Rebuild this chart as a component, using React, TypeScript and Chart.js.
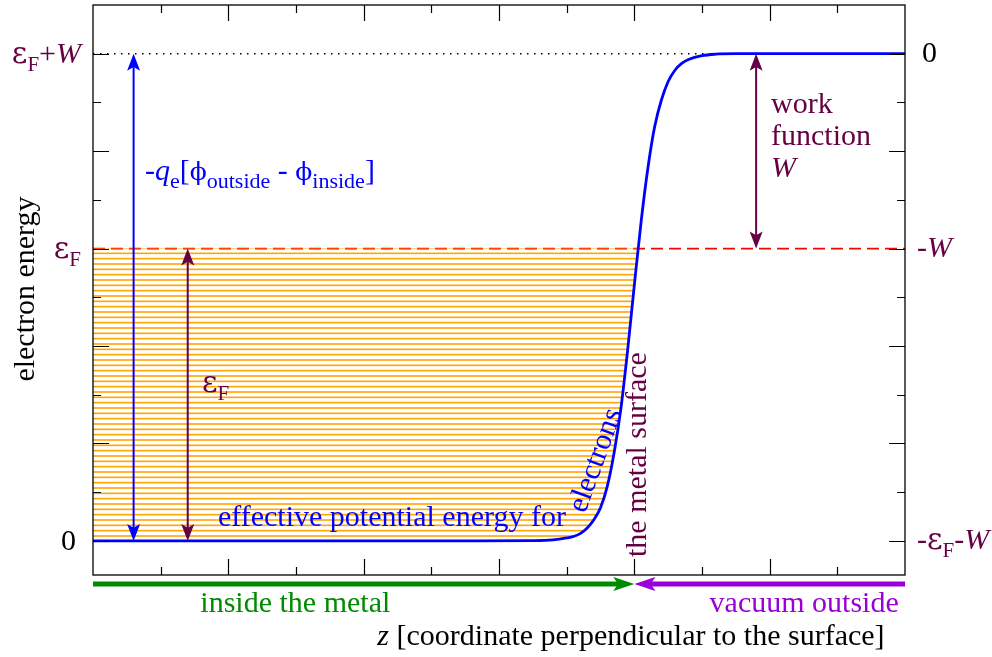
import React, { useEffect, useRef } from 'react';
import { Chart, registerables } from 'chart.js';

Chart.register(...registerables);

// ---------- data ----------
const zRange = [0, 12];
const energyRange = [-0.7, 11];
// effective potential energy for electrons, sampled along z
const potentialZ = [0, 5.5, 6.5, 6.8, 7.0, 7.1, 7.2, 7.3, 7.4, 7.5, 7.6, 7.7, 7.8, 7.9, 8.0, 8.1, 8.2, 8.3, 8.4, 8.5, 8.6, 8.7, 8.8, 9.0, 9.2, 9.5, 10, 12];
const potentialE = [0, 0, 0.005, 0.02, 0.06, 0.09, 0.15, 0.26, 0.43, 0.68, 1.12, 1.8, 2.7, 3.9, 5.25, 6.55, 7.65, 8.5, 9.05, 9.43, 9.66, 9.8, 9.88, 9.96, 9.99, 10, 10, 10];
const fermiLevel = 6;
const vacuumLevel = 10;
const surfaceZ = 8;
const zTicks = [1, 2, 3, 4, 5, 6, 7, 8, 9, 10, 11];
const eTicks = [0, 1, 2, 3, 4, 5, 6, 7, 8, 9, 10];
const leftTickValues = [10, 6, 0];
const leftTickLabels = ['ε_{F}+*W*', 'ε_{F}', '0'];
const rightTickValues = [10, 6, 0];
const rightTickLabels = ['0', '-*W*', '-ε_{F}-*W*'];

const FONT = "'Liberation Serif', 'Times New Roman', Times, serif";
const GREEK_FONT = "'DejaVu Serif', 'Liberation Serif', serif";
const MAROON = '#660044';
const BLUE = '#0000ff';
const GREEN = '#008a00';
const PURPLE = '#9a00d8';

type Run = { t: string; it: boolean; sub: boolean };

function parse(m: string): Run[] {
  const runs: Run[] = [];
  let it = false;
  let buf = '';
  let i = 0;
  const push = (sub: boolean) => {
    if (buf) runs.push({ t: buf, it, sub });
    buf = '';
  };
  while (i < m.length) {
    const c = m[i];
    if (c === '*') { push(false); it = !it; i++; continue; }
    if (c === '_' && m[i + 1] === '{') {
      push(false);
      const j = m.indexOf('}', i);
      buf = m.slice(i + 2, j);
      push(true);
      i = j + 1;
      continue;
    }
    if (c === 'ε' || c === 'ϕ') {
      push(false);
      buf = c;
      push(false);
      i++;
      continue;
    }
    buf += c;
    i++;
  }
  push(false);
  return runs;
}

function fontFor(r: Run, size: number, subSize: number) {
  if (r.t === 'ϕ') return `${Math.round(size * 0.84)}px ${GREEK_FONT}`;
  const greek = r.t === 'ε';
  return `${r.it ? 'italic ' : ''}${r.sub ? subSize : size}px ${greek ? GREEK_FONT : FONT}`;
}

function drawRich(ctx: CanvasRenderingContext2D, m: string, x: number, y: number, size: number, color: string,
  align: 'left' | 'right' | 'center' = 'left', subSize = size * 0.72, subDy = size * 0.27) {
  const runs = parse(m);
  let w = 0;
  for (const r of runs) { ctx.font = fontFor(r, size, subSize); w += ctx.measureText(r.t).width; }
  let cx = align === 'left' ? x : align === 'right' ? x - w : x - w / 2;
  ctx.fillStyle = color;
  ctx.textAlign = 'left';
  ctx.textBaseline = 'alphabetic';
  for (const r of runs) {
    ctx.font = fontFor(r, size, subSize);
    ctx.fillText(r.t, cx, y + (r.sub ? subDy : 0));
    cx += ctx.measureText(r.t).width;
  }
}

function arrowHead(ctx: CanvasRenderingContext2D, tx: number, ty: number, dx: number, dy: number, len: number, hw: number, color: string) {
  const bx = tx - dx * len, by = ty - dy * len;
  const px = -dy, py = dx;
  const nx = tx - dx * len * 0.78, ny = ty - dy * len * 0.78;
  ctx.fillStyle = color;
  ctx.beginPath();
  ctx.moveTo(tx, ty);
  ctx.lineTo(bx + px * hw, by + py * hw);
  ctx.lineTo(nx, ny);
  ctx.lineTo(bx - px * hw, by - py * hw);
  ctx.closePath();
  ctx.fill();
}

function arrow(ctx: CanvasRenderingContext2D, x0: number, y0: number, x1: number, y1: number, color: string,
  width: number, len: number, hw: number, heads: 'end' | 'both') {
  const L = Math.hypot(x1 - x0, y1 - y0);
  const dx = (x1 - x0) / L, dy = (y1 - y0) / L;
  const inset = len * 0.7;
  ctx.strokeStyle = color;
  ctx.lineWidth = width;
  ctx.setLineDash([]);
  ctx.beginPath();
  const sx = heads === 'both' ? x0 + dx * inset : x0;
  const sy = heads === 'both' ? y0 + dy * inset : y0;
  ctx.moveTo(sx, sy);
  ctx.lineTo(x1 - dx * inset, y1 - dy * inset);
  ctx.stroke();
  arrowHead(ctx, x1, y1, dx, dy, len, hw, color);
  if (heads === 'both') arrowHead(ctx, x0, y0, -dx, -dy, len, hw, color);
}

const overlay = {
  id: 'overlay',
  beforeDraw(chart: any) {
    const { ctx } = chart;
    ctx.save();
    ctx.fillStyle = '#ffffff';
    ctx.fillRect(0, 0, chart.width, chart.height);
    ctx.restore();
  },
  afterDatasetsDraw(chart: any) {
    const { ctx, chartArea: a } = chart;
    const xs = chart.scales.x, ys = chart.scales.y;
    const X = (v: number) => xs.getPixelForValue(v);
    const Y = (v: number) => ys.getPixelForValue(v);
    ctx.save();

    // vertical double arrows
    arrow(ctx, X(0.6), Y(0), X(0.6), Y(vacuumLevel), BLUE, 2, 17, 6.5, 'both');
    arrow(ctx, X(1.4), Y(0), X(1.4), Y(fermiLevel), MAROON, 2, 17, 6.5, 'both');
    arrow(ctx, X(9.8), Y(fermiLevel), X(9.8), Y(vacuumLevel), MAROON, 2, 17, 6.5, 'both');

    // frame
    ctx.strokeStyle = '#000';
    ctx.lineWidth = 1.3;
    ctx.setLineDash([]);
    ctx.strokeRect(a.left, a.top, a.right - a.left, a.bottom - a.top);

    // inward ticks
    ctx.lineWidth = 1.2;
    ctx.beginPath();
    for (const v of zTicks) {
      const L = v % 2 === 0 ? 16 : 8;
      const px = Math.round(X(v)) + 0.5;
      ctx.moveTo(px, a.bottom); ctx.lineTo(px, a.bottom - L);
      ctx.moveTo(px, a.top); ctx.lineTo(px, a.top + L);
    }
    for (const v of eTicks) {
      const L = v % 2 === 0 ? 16 : 8;
      const py = Math.round(Y(v)) + 0.5;
      ctx.moveTo(a.left, py); ctx.lineTo(a.left + L, py);
      ctx.moveTo(a.right, py); ctx.lineTo(a.right - L, py);
    }
    ctx.stroke();

    // tick labels
    leftTickValues.forEach((v, i) => {
      const lbl = leftTickLabels[i];
      drawRich(ctx, lbl, a.left - (lbl === '0' ? 17 : 12), Y(v) + 9, 30, lbl === '0' ? '#000' : MAROON, 'right', 21, 8);
    });
    rightTickValues.forEach((v, i) => {
      const lbl = rightTickLabels[i];
      drawRich(ctx, lbl, a.right + (lbl === '0' ? 17 : 12), Y(v) + 8, 30, lbl === '0' ? '#000' : MAROON, 'left', 21, 8);
    });

    // y axis title
    ctx.save();
    ctx.translate(a.left - 59, Y(5.17));
    ctx.rotate(-Math.PI / 2);
    drawRich(ctx, 'electron energy', 0, 0, 30, '#000', 'center');
    ctx.restore();

    // annotations
    drawRich(ctx, '-*q*_{e}[ϕ_{outside} - ϕ_{inside}]', X(0.768), Y(7.41), 30, BLUE, 'left', 22, 8);
    drawRich(ctx, 'ε_{F}', X(1.61), Y(3.06), 30, MAROON, 'left', 21, 8);
    drawRich(ctx, 'work', X(10.02), Y(8.79), 30, MAROON);
    drawRich(ctx, 'function', X(10.02), Y(8.13), 30, MAROON);
    drawRich(ctx, '*W*', X(10.02), Y(7.47), 30, MAROON);
    drawRich(ctx, 'effective potential energy for', X(1.847), Y(0.31), 30, BLUE);

    ctx.save();
    ctx.translate(X(7.27), Y(0.55));
    ctx.rotate(-70 * Math.PI / 180);
    drawRich(ctx, 'electrons', 0, 0, 30, BLUE);
    ctx.restore();

    ctx.save();
    ctx.translate(X(8.17), Y(-0.33));
    ctx.rotate(-Math.PI / 2);
    drawRich(ctx, 'the metal surface', 0, 0, 30, MAROON);
    ctx.restore();

    // region arrows below the frame
    const ay = a.bottom + 9;
    arrow(ctx, X(zRange[0]), ay, X(surfaceZ), ay, GREEN, 5, 21, 7, 'end');
    arrow(ctx, X(zRange[1]), ay, X(surfaceZ), ay, PURPLE, 5, 21, 7, 'end');
    drawRich(ctx, 'inside the metal', X(2.99), a.bottom + 37, 30, GREEN, 'center');
    drawRich(ctx, 'vacuum outside', X(10.51), a.bottom + 37, 30, PURPLE, 'center');
    drawRich(ctx, '*z* [coordinate perpendicular to the surface]', X(7.95), a.bottom + 70, 30, '#000', 'center');

    ctx.restore();
  },
};

export default function App() {
  const ref = useRef<HTMLCanvasElement | null>(null);
  useEffect(() => {
    const canvas = ref.current!;
    const pc = document.createElement('canvas');
    pc.width = 8; pc.height = 16;
    const g = pc.getContext('2d')!;
    g.strokeStyle = '#ffa500';
    g.lineWidth = 1.6;
    for (const yy of [2.67, 8, 13.33]) {
      g.beginPath(); g.moveTo(0, yy); g.lineTo(8, yy); g.stroke();
    }
    const pattern = canvas.getContext('2d')!.createPattern(pc, 'repeat')!;

    const curve = potentialZ.map((z, i) => ({ x: z, y: potentialE[i] }));
    const fermi = potentialZ.map((z) => ({ x: z, y: fermiLevel }));
    const fermiFull = [{ x: zRange[0], y: fermiLevel }, { x: zRange[1], y: fermiLevel }];
    const vacuum = [{ x: zRange[0], y: vacuumLevel }, { x: zRange[1], y: vacuumLevel }];

    const chart = new Chart(canvas, {
      type: 'line',
      data: {
        datasets: [
          { data: curve, borderColor: BLUE, borderWidth: 2.8, pointRadius: 0, cubicInterpolationMode: 'monotone', fill: false },
          { data: fermi, borderColor: 'rgba(0,0,0,0)', borderWidth: 0, pointRadius: 0, fill: { target: 0, above: pattern, below: 'rgba(0,0,0,0)' } },
          { data: fermiFull, borderColor: '#ff0000', borderWidth: 1.6, borderDash: [12, 6], pointRadius: 0, fill: false },
          { data: vacuum, borderColor: '#000', borderWidth: 1.5, borderDash: [1.5, 5.5], pointRadius: 0, fill: false },
        ],
      } as any,
      options: {
        animation: false,
        responsive: false,
        devicePixelRatio: 1,
        events: [],
        layout: { padding: { left: 93, right: 87, top: 5, bottom: 82 } },
        scales: {
          x: { type: 'linear', min: zRange[0], max: zRange[1], display: false },
          y: { type: 'linear', min: energyRange[0], max: energyRange[1], display: false },
        },
        plugins: { legend: { display: false }, tooltip: { enabled: false } },
      } as any,
      plugins: [overlay],
    });
    return () => chart.destroy();
  }, []);
  return (
    <div style={{ position: 'absolute', left: 0, top: 0, width: 992, height: 657 }}>
      <canvas ref={ref} width={992} height={657} style={{ display: 'block' }} />
    </div>
  );
}
